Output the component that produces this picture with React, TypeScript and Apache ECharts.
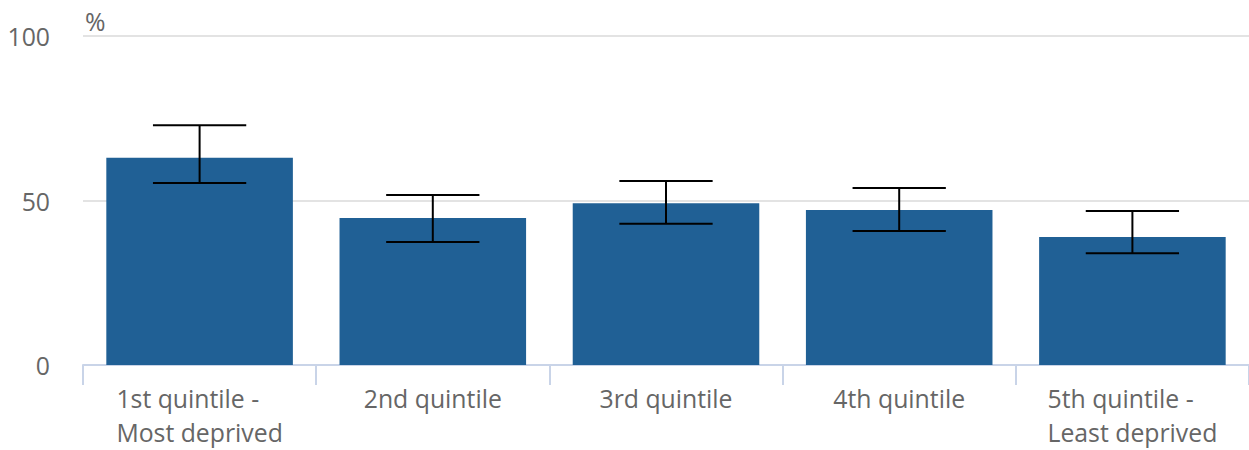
import React, { useEffect, useRef } from "react";
import * as echarts from "echarts";

const categories = [
  "1st quintile -\nMost deprived",
  "2nd quintile",
  "3rd quintile",
  "4th quintile",
  "5th quintile -\nLeast deprived",
];
const values = [63.0, 44.7, 49.2, 47.1, 38.9];
const lowerCI = [55.3, 37.4, 42.9, 40.7, 34.0];
const upperCI = [72.9, 51.7, 55.9, 53.8, 46.8];
const yTicks = [0, 50, 100];

export default function App() {
  const ref = useRef<HTMLDivElement>(null);
  useEffect(() => {
    document.body.style.margin = "0";
    const chart = echarts.init(ref.current!, null, { renderer: "svg" });
    const font = "'Open Sans', 'Noto Sans', sans-serif";
    const fs = 24.8;
    chart.setOption({
      animation: false,
      grid: { left: 83, right: -4, top: 36, bottom: 85 },
      graphic: [
        {
          type: "text",
          left: 85,
          top: 8,
          style: { text: "%", fontSize: fs, fill: "#666666", fontFamily: font },
        },
      ],
      xAxis: {
        type: "category",
        data: categories,
        axisLine: { show: true, lineStyle: { color: "#c9d4e8", width: 2 } },
        axisTick: { show: true, interval: 0, length: 20, lineStyle: { color: "#c9d4e8", width: 2 } },
        axisLabel: {
          interval: 0,
          margin: 16,
          color: "#666666",
          fontSize: fs,
          fontFamily: font,
          lineHeight: 34,
          formatter: (v: string) =>
            v
              .split("\n")
              .map((l) => "{a|" + l + "}")
              .join("\n"),
          rich: {
            a: {
              align: "left",
              fontSize: fs,
              fontFamily: font,
              color: "#666666",
              lineHeight: 34,
            },
          },
        },
      },
      yAxis: {
        type: "value",
        min: 0,
        max: 100,
        interval: 50,
        axisLine: { show: false },
        axisTick: { show: false },
        axisLabel: {
          margin: 33,
          color: "#666666",
          fontSize: fs,
          fontFamily: font,
          formatter: (v: number) => (yTicks.includes(v) ? String(v) : ""),
        },
        splitLine: { lineStyle: { color: "#e3e3e3", width: 2 } },
      },
      series: [
        {
          type: "bar",
          data: values,
          barCategoryGap: "20%",
          itemStyle: { color: "#206095" },
        },
        {
          type: "custom",
          data: categories.map((_, i) => [i, lowerCI[i], upperCI[i]]),
          z: 10,
          renderItem: (params: any, api: any) => {
            const i = api.value(0);
            const lo = api.coord([i, api.value(1)]);
            const hi = api.coord([i, api.value(2)]);
            const bw = (api.size([1, 0])[0] as number) * 0.8;
            const half = bw / 4;
            const style = { stroke: "#000000", lineWidth: 2 };
            return {
              type: "group",
              children: [
                { type: "line", shape: { x1: lo[0], y1: lo[1], x2: hi[0], y2: hi[1] }, style },
                { type: "line", shape: { x1: hi[0] - half, y1: hi[1], x2: hi[0] + half, y2: hi[1] }, style },
                { type: "line", shape: { x1: lo[0] - half, y1: lo[1], x2: lo[0] + half, y2: lo[1] }, style },
              ],
            };
          },
        },
      ],
    });
    return () => chart.dispose();
  }, []);
  return <div ref={ref} style={{ width: 1249, height: 450 }} />;
}
